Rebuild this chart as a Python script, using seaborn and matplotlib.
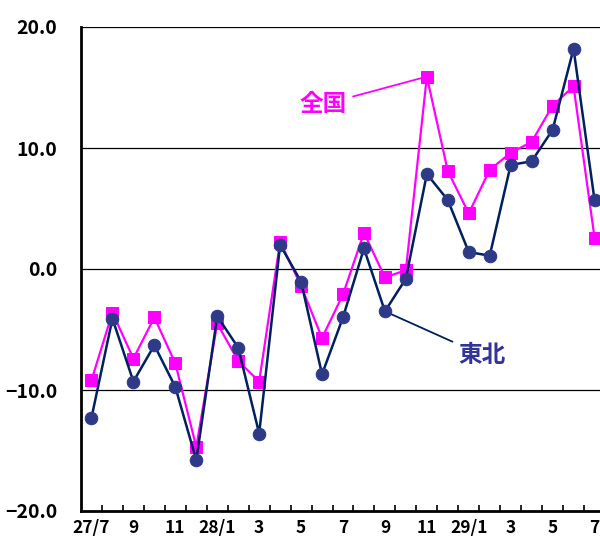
import matplotlib
matplotlib.use("Agg")
import matplotlib.pyplot as plt
import seaborn as sns
import pandas as pd
import numpy as np

months = ["27/7", "8", "9", "10", "11", "12", "28/1", "2", "3", "4", "5", "6", "7",
          "8", "9", "10", "11", "12", "29/1", "2", "3", "4", "5", "6", "7"]
zenkoku = [-9.2, -3.6, -7.4, -4.0, -7.8, -14.7, -4.5, -7.6, -9.3, 2.25, -1.4, -5.7, -2.1,
           3.0, -0.7, -0.1, 15.9, 8.1, 4.6, 8.2, 9.6, 10.5, 13.5, 15.1, 2.6]
tohoku = [-12.3, -4.1, -9.3, -6.3, -9.75, -15.8, -3.9, -6.5, -13.6, 2.0, -1.05, -8.7, -4.0,
          1.7, -3.5, -0.8, 7.85, 5.7, 1.4, 1.1, 8.6, 8.9, 11.5, 18.2, 5.7]
yticks = [-20.0, -10.0, 0.0, 10.0, 20.0]

sns.set_theme(style="white")
plt.rcParams['font.family'] = ['Noto Sans CJK JP', 'DejaVu Sans']

df = pd.DataFrame({"idx": np.arange(len(months)), "zenkoku": zenkoku, "tohoku": tohoku})

fig = plt.figure(figsize=(6, 5.4), dpi=100)
ax = fig.add_axes([81/600, 1-511/540, 524/600, (511-27)/540])

sns.lineplot(data=df, x="idx", y="zenkoku", ax=ax, color="#ff00ff", lw=1.6,
             marker="s", markersize=8.5, markeredgecolor="#ff00ff", markerfacecolor="#ff00ff", zorder=3)
sns.lineplot(data=df, x="idx", y="tohoku", ax=ax, color="#002060", lw=1.8,
             marker="o", markersize=9, markeredgecolor="#2e3a87", markerfacecolor="#2e3a87", zorder=4)

ax.set_xlim(-0.5, 24.5)
ax.set_ylim(-20, 20)
ax.set_xlabel("")
ax.set_ylabel("")
for v in [-10, 0, 10, 20]:
    ax.axhline(v, color="black", lw=0.9, zorder=1)

ax.set_yticks(yticks)
ax.set_yticklabels([f"{v:.1f}".replace("-", "\u2212") for v in yticks],
                   fontsize=14, fontweight="bold", color="black")
ax.tick_params(axis="y", length=0, pad=17)

major = np.arange(0, len(months), 2)
ax.set_xticks(major)
ax.set_xticklabels([months[i] for i in major], fontsize=12.5, fontweight="bold", color="black")
ax.set_xticks(np.arange(0.5, len(months) - 1, 1), minor=True)
ax.tick_params(axis="x", which="major", length=0, pad=6)
ax.tick_params(axis="x", which="minor", length=4, width=1.2, direction="in", color="black", bottom=True)

for s in ["top", "right"]:
    ax.spines[s].set_visible(False)
ax.spines["left"].set_color("black")
ax.spines["left"].set_linewidth(2)
ax.spines["bottom"].set_color("black")
ax.spines["bottom"].set_linewidth(2)

ax.annotate("全国", xy=(16, 15.9), xytext=(12.2, 13.6), color="#ff00ff",
            fontsize=17, fontweight="bold",
            ha="right", va="center",
            arrowprops=dict(arrowstyle="-", color="#ff00ff", lw=1.3, shrinkA=2, shrinkB=4))
ax.annotate("東北", xy=(14, -3.5), xytext=(17.5, -7.1), color="#333399",
            fontsize=17, fontweight="bold",
            ha="left", va="center",
            arrowprops=dict(arrowstyle="-", color="#002060", lw=1.3, shrinkA=2, shrinkB=4))

fig.savefig("out.png", dpi=100)
